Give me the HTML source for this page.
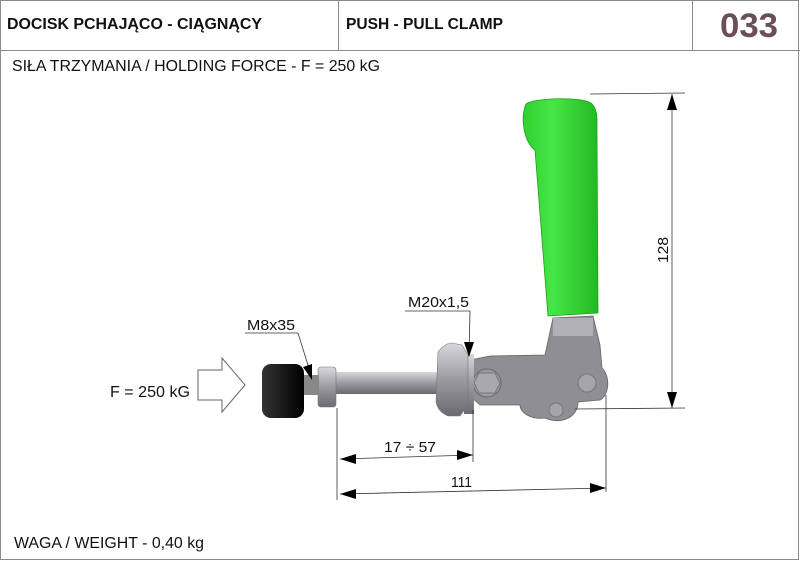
<!DOCTYPE html>
<html><head><meta charset="utf-8"><style>
body{margin:0;width:800px;height:561px;background:#fff;overflow:hidden;font-family:"Liberation Sans",sans-serif}
</style></head><body>
<svg width="800" height="561" viewBox="0 0 800 561" xmlns="http://www.w3.org/2000/svg" font-family="Liberation Sans, sans-serif">
<defs>
<linearGradient id="rod" x1="0" y1="0" x2="0" y2="1"><stop offset="0" stop-color="#d8d8dc"/><stop offset=".5" stop-color="#9a9aa0"/><stop offset="1" stop-color="#6a6a70"/></linearGradient>
<linearGradient id="grn" x1="0" y1="0" x2="1" y2="0"><stop offset="0" stop-color="#2fd12f"/><stop offset=".4" stop-color="#46e646"/><stop offset="1" stop-color="#22b822"/></linearGradient>
<linearGradient id="knob" x1="0" y1="0" x2="1" y2="0"><stop offset="0" stop-color="#333"/><stop offset="1" stop-color="#000"/></linearGradient>
</defs>
<rect x="0.5" y="0.5" width="798" height="559" fill="none" stroke="#8a8a8a"/>
<line x1="0" y1="50.5" x2="800" y2="50.5" stroke="#8a8a8a"/>
<line x1="338.5" y1="0" x2="338.5" y2="50" stroke="#8a8a8a"/>
<line x1="692.5" y1="0" x2="692.5" y2="50" stroke="#8a8a8a"/>
<text x="7" y="29" font-size="15.5" font-weight="bold" fill="#111" textLength="255" lengthAdjust="spacingAndGlyphs">DOCISK PCHAJĄCO - CIĄGNĄCY</text>
<text x="346" y="29" font-size="15.5" font-weight="bold" fill="#111" textLength="157" lengthAdjust="spacingAndGlyphs">PUSH - PULL CLAMP</text>
<text x="720" y="37" font-size="34" font-weight="bold" fill="#6a4f58" textLength="58" lengthAdjust="spacingAndGlyphs">033</text>
<text x="12" y="71" font-size="15.5" fill="#111" textLength="368" lengthAdjust="spacingAndGlyphs">SIŁA TRZYMANIA / HOLDING FORCE - F = 250 kG</text>
<text x="14" y="548" font-size="15.5" fill="#111" textLength="190" lengthAdjust="spacingAndGlyphs">WAGA / WEIGHT - 0,40 kg</text>
<text x="110" y="397" font-size="15.5" fill="#111" textLength="80" lengthAdjust="spacingAndGlyphs">F = 250 kG</text>
<polygon points="198,370 222,370 222,358 245,385 222,412 222,400 198,400" fill="none" stroke="#666"/>
<path d="M548,316 L535,150 C524,142 520,118 526,104 C532,98 585,96 592,104 C598,110 597,120 597,130 L598,313 Z" fill="url(#grn)" stroke="#1e9e1e" stroke-width="0.8"/>
<path d="M553,318 L593,316 L600,345 L602,368 C610,375 610,395 600,400 L578,402 C578,418 560,425 545,418 C530,420 520,412 520,405 L480,405 L470,396 L470,360 L490,356 L545,355 Z" fill="#8e8e94" stroke="#666" stroke-width="0.8"/>
<rect x="553" y="318" width="40" height="18" fill="#b0b0b6"/>
<circle cx="487" cy="383" r="14" fill="#9a9aa0" stroke="#6a6a70"/>
<polygon points="479,373 495,373 500,383 495,393 479,393 474,383" fill="#a8a8ae" stroke="#777"/>
<circle cx="587" cy="383" r="9" fill="#a4a4aa" stroke="#777"/>
<circle cx="556" cy="410" r="7" fill="#a4a4aa" stroke="#777"/>
<rect x="330" y="372" width="112" height="22" fill="url(#rod)"/>
<rect x="318" y="367" width="18" height="40" rx="3" fill="url(#rod)" stroke="#777" stroke-width=".6"/>
<rect x="303" y="375" width="16" height="20" fill="#888"/>
<rect x="464" y="354" width="10" height="60" fill="url(#rod)"/>
<path d="M438,352 Q445,343 452,343 L462,345 L468,355 L468,405 L460,416 L448,416 Q438,412 436,402 Z" fill="url(#rod)" stroke="#777" stroke-width=".6"/>
<rect x="262" y="364" width="42" height="54" rx="9" fill="url(#knob)"/>
<g stroke="#333" stroke-width="0.8" fill="none">
<line x1="590" y1="94" x2="685" y2="93"/><line x1="575" y1="409" x2="685" y2="408"/>
<line x1="672" y1="94" x2="672" y2="408"/>
<line x1="337" y1="408" x2="337" y2="500"/><line x1="473" y1="410" x2="473" y2="462"/>
<line x1="606" y1="395" x2="606" y2="492"/>
<line x1="340" y1="459" x2="473" y2="455"/>
<line x1="340" y1="494" x2="606" y2="488"/>
<polyline points="245,333 298,333 312,378"/>
<polyline points="405,311 470,311 469,355"/>
</g>
<g fill="#000">
<polygon points="672,94 667,110 677,110"/><polygon points="672,408 667,392 677,392"/>
<polygon points="340,459 356,454 356,464"/><polygon points="473,455 457,450 457,460"/>
<polygon points="340,494 356,489 356,499"/><polygon points="606,488 590,483 590,493"/>
<polygon points="312,380 303,367 312,364"/><polygon points="469,357 464,342 474,342"/>
</g>
<text x="247" y="330" font-size="15" fill="#111" textLength="48" lengthAdjust="spacingAndGlyphs">M8x35</text>
<text x="408" y="307" font-size="15" fill="#111" textLength="61" lengthAdjust="spacingAndGlyphs">M20x1,5</text>
<text x="384" y="452" font-size="15" fill="#111" textLength="52" lengthAdjust="spacingAndGlyphs">17 ÷ 57</text>
<text x="451" y="487" font-size="15" fill="#111" textLength="21" lengthAdjust="spacingAndGlyphs">111</text>
<text x="0" y="0" font-size="15" fill="#111" transform="translate(668,263) rotate(-90)" textLength="26" lengthAdjust="spacingAndGlyphs">128</text>
</svg>
</body></html>
